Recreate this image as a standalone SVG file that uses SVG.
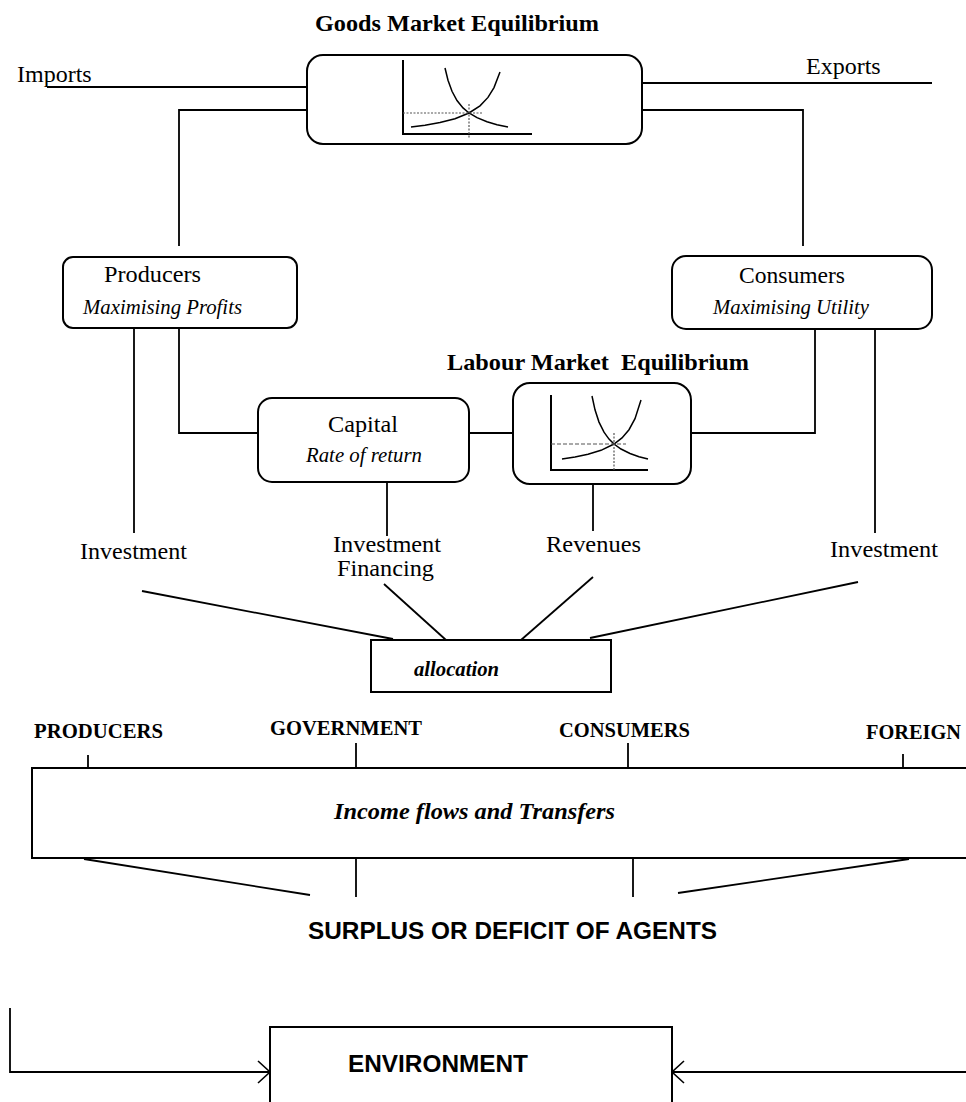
<svg xmlns="http://www.w3.org/2000/svg" width="966" height="1102" viewBox="0 0 966 1102">
<style>
.box{fill:#fff;stroke:#000;stroke-width:2}
.ln{fill:none;stroke:#000;stroke-width:1.8}
.ax{fill:none;stroke:#000;stroke-width:2}
.cv{fill:none;stroke:#000;stroke-width:1.5}
.dt{fill:none;stroke:#555;stroke-width:1.2;stroke-dasharray:2,1.5}
.t{font-family:"Liberation Serif","Times New Roman",serif;font-size:24px;fill:#000}
.i{font-family:"Liberation Serif","Times New Roman",serif;font-size:20.7px;font-style:italic;fill:#000}
.b{font-family:"Liberation Serif","Times New Roman",serif;font-size:24px;font-weight:bold;fill:#000}
.cap{font-family:"Liberation Serif","Times New Roman",serif;font-size:20.5px;font-weight:bold;fill:#000}
.bi{font-family:"Liberation Serif","Times New Roman",serif;font-weight:bold;font-style:italic;fill:#000}
.s{font-family:"Liberation Sans",Arial,sans-serif;font-weight:bold;fill:#000}
</style>
<defs>
<marker id="chev" markerWidth="16" markerHeight="26" refX="13" refY="12" orient="auto" markerUnits="userSpaceOnUse">
<path d="M1,1 L13,12 L1,23" fill="none" stroke="#000" stroke-width="1.6"/>
</marker>
</defs>

<g id="connectors">
<line class="ln" x1="47" y1="87" x2="307" y2="87"/>
<line class="ln" x1="642" y1="83" x2="932" y2="83"/>
<polyline class="ln" points="307,110 179,110 179,246"/>
<polyline class="ln" points="642,110 803,110 803,246"/>
<polyline class="ln" points="179,328 179,433 258,433"/>
<line class="ln" x1="134" y1="328" x2="134" y2="533"/>
<line class="ln" x1="469" y1="433" x2="513" y2="433"/>
<polyline class="ln" points="691,433 815,433 815,329"/>
<line class="ln" x1="875" y1="329" x2="875" y2="533"/>
<line class="ln" x1="387" y1="482" x2="387" y2="536"/>
<line class="ln" x1="593" y1="484" x2="593" y2="531"/>
<line class="ln" x1="142" y1="591" x2="393" y2="639"/>
<line class="ln" x1="384" y1="584" x2="446" y2="640"/>
<line class="ln" x1="593" y1="577" x2="521" y2="640"/>
<line class="ln" x1="858" y1="582" x2="590" y2="638"/>
<line class="ln" x1="88" y1="755" x2="88" y2="768"/>
<line class="ln" x1="356" y1="743" x2="356" y2="768"/>
<line class="ln" x1="628" y1="743" x2="628" y2="768"/>
<line class="ln" x1="903" y1="754" x2="903" y2="768"/>
<line class="ln" x1="84" y1="859" x2="310" y2="895"/>
<line class="ln" x1="356" y1="859" x2="356" y2="897"/>
<line class="ln" x1="633" y1="859" x2="633" y2="897"/>
<line class="ln" x1="909" y1="859" x2="678" y2="893"/>
<polyline class="ln" points="10,1008 10,1072 270,1072" marker-end="url(#chev)"/>
<line class="ln" x1="966" y1="1072" x2="672" y2="1072" marker-end="url(#chev)"/>
</g>

<g id="goods-market">
<text class="b" x="315" y="31" textLength="284" lengthAdjust="spacingAndGlyphs">Goods Market Equilibrium</text>
<rect class="box" x="307" y="55" width="335" height="89" rx="16"/>
<polyline class="ax" points="403,60 403,134 532,134"/>
<polyline class="cv" points="445,68 448,80.2 452,91.3 457,100.5 463,107.9 469,113 477,117.7 487,121.8 497,124.7 508,127"/>
<polyline class="cv" points="411,127 425,125.2 440,122.6 455,118.7 469,113 480,105.8 488,97.4 494,87.6 500,72"/>
<line class="dt" x1="403" y1="113" x2="483" y2="113"/>
<line class="dt" x1="469" y1="104" x2="469" y2="139"/>
</g>

<g id="imports"><text class="t" x="17" y="82" font-size="23.5">Imports</text></g>
<g id="exports"><text class="t" x="806" y="74">Exports</text></g>

<g id="producers">
<rect class="box" x="63" y="257" width="234" height="71" rx="10"/>
<text class="t" x="104" y="282" textLength="97" lengthAdjust="spacingAndGlyphs">Producers</text>
<text class="i" x="83" y="314" textLength="159" lengthAdjust="spacingAndGlyphs">Maximising Profits</text>
</g>

<g id="consumers">
<rect class="box" x="672" y="256" width="260" height="73" rx="14"/>
<text class="t" x="739" y="283" textLength="106" lengthAdjust="spacingAndGlyphs">Consumers</text>
<text class="i" x="713" y="314" textLength="156" lengthAdjust="spacingAndGlyphs">Maximising Utility</text>
</g>

<g id="capital">
<rect class="box" x="258" y="398" width="211" height="84" rx="14"/>
<text class="t" x="328" y="432" textLength="70" lengthAdjust="spacingAndGlyphs">Capital</text>
<text class="i" x="306" y="462" textLength="116" lengthAdjust="spacingAndGlyphs">Rate of return</text>
</g>

<g id="labour-market">
<text class="b" x="447" y="370" xml:space="preserve" textLength="302" lengthAdjust="spacingAndGlyphs">Labour Market  Equilibrium</text>
<rect class="box" x="513" y="383" width="178" height="101" rx="17"/>
<polyline class="ax" points="551,395 551,470 648,470"/>
<polyline class="cv" points="592,396 595,409.8 599,422.1 604,432.2 609,439.1 614,444 621,449 630,453.5 639,456.7 648,459"/>
<polyline class="cv" points="562,459 575,457 588,454.3 601,450.3 614,444 622,437.9 629,429.7 635,418.7 641,400"/>
<line class="dt" x1="551" y1="444" x2="626" y2="444" style="stroke-dasharray:4,2"/>
<line class="dt" x1="614" y1="433" x2="614" y2="470"/>
</g>

<g id="investment-producers"><text class="t" x="80" y="559" textLength="107" lengthAdjust="spacingAndGlyphs">Investment</text></g>
<g id="investment-financing">
<text class="t" x="333" y="552" textLength="108" lengthAdjust="spacingAndGlyphs">Investment</text>
<text class="t" x="337" y="576" textLength="97" lengthAdjust="spacingAndGlyphs">Financing</text>
</g>
<g id="revenues"><text class="t" x="546" y="552" textLength="95" lengthAdjust="spacingAndGlyphs">Revenues</text></g>
<g id="investment-consumers"><text class="t" x="830" y="557" textLength="108" lengthAdjust="spacingAndGlyphs">Investment</text></g>

<g id="allocation">
<rect class="box" x="371" y="640" width="240" height="52"/>
<text class="bi" x="414" y="676" font-size="20.5" textLength="85" lengthAdjust="spacingAndGlyphs">allocation</text>
</g>

<g id="agents">
<text class="cap" x="34" y="738" textLength="129" lengthAdjust="spacingAndGlyphs">PRODUCERS</text>
<text class="cap" x="270" y="735" textLength="152" lengthAdjust="spacingAndGlyphs">GOVERNMENT</text>
<text class="cap" x="559" y="737" textLength="131" lengthAdjust="spacingAndGlyphs">CONSUMERS</text>
<text class="cap" x="866" y="739" textLength="95" lengthAdjust="spacingAndGlyphs">FOREIGN</text>
</g>

<g id="income-flows">
<rect class="box" x="32" y="768" width="960" height="90"/>
<text class="bi" x="334" y="819" font-size="24" textLength="281" lengthAdjust="spacingAndGlyphs">Income flows and Transfers</text>
</g>

<g id="surplus"><text class="s" x="308" y="939" font-size="23" textLength="409" lengthAdjust="spacingAndGlyphs">SURPLUS OR DEFICIT OF AGENTS</text></g>

<g id="environment">
<rect class="box" x="270" y="1027" width="402" height="90"/>
<text class="s" x="348" y="1072" font-size="24" textLength="180" lengthAdjust="spacingAndGlyphs">ENVIRONMENT</text>
</g>
</svg>
